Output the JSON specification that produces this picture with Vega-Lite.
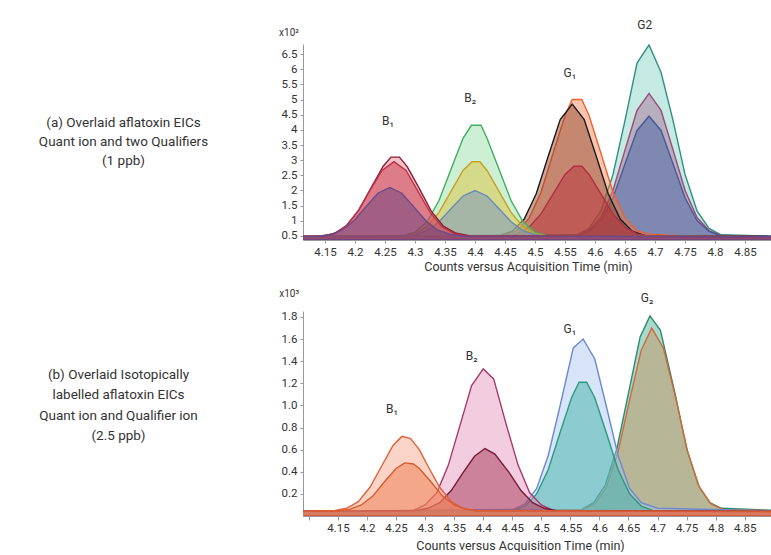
{
  "$schema": "https://vega.github.io/schema/vega-lite/v6.json",
  "background": "white",
  "padding": {"left": 38, "top": 19, "right": 0, "bottom": 0},
  "bounds": "flush",
  "spacing": 71,
  "config": {
    "view": {"stroke": null},
    "font": "Roboto",
    "axis": {
      "grid": false,
      "domainColor": "#999999",
      "tickColor": "#999999",
      "tickSize": 3,
      "labelColor": "#333333",
      "labelFontSize": 11.5,
      "labelOverlap": false,
      "labelFlush": false,
      "titleColor": "#333333",
      "titleFontSize": 12.5,
      "titleFontWeight": "normal"
    }
  },
  "resolve": {"scale": {"x": "independent", "y": "independent", "fill": "independent", "stroke": "independent"}},
  "datasets": {
    "top": [
      {"s":"G2t","x":4.05,"y":0.47},{"s":"G2t","x":4.57,"y":0.54},{"s":"G2t","x":4.59,"y":0.75},{"s":"G2t","x":4.61,"y":1.33},{"s":"G2t","x":4.63,"y":2.53},{"s":"G2t","x":4.65,"y":4.31},{"s":"G2t","x":4.67,"y":6.2},{"s":"G2t","x":4.69,"y":6.8},{"s":"G2t","x":4.71,"y":5.9},{"s":"G2t","x":4.73,"y":4.31},{"s":"G2t","x":4.75,"y":2.53},{"s":"G2t","x":4.77,"y":1.33},{"s":"G2t","x":4.79,"y":0.75},{"s":"G2t","x":4.81,"y":0.54},{"s":"G2t","x":4.95,"y":0.47},
      {"s":"G2m","x":4.05,"y":0.47},{"s":"G2m","x":4.57,"y":0.52},{"s":"G2m","x":4.59,"y":0.68},{"s":"G2m","x":4.61,"y":1.11},{"s":"G2m","x":4.63,"y":2.01},{"s":"G2m","x":4.65,"y":3.34},{"s":"G2m","x":4.67,"y":4.64},{"s":"G2m","x":4.69,"y":5.2},{"s":"G2m","x":4.71,"y":4.64},{"s":"G2m","x":4.73,"y":3.34},{"s":"G2m","x":4.75,"y":2.01},{"s":"G2m","x":4.77,"y":1.11},{"s":"G2m","x":4.79,"y":0.68},{"s":"G2m","x":4.81,"y":0.52},{"s":"G2m","x":4.95,"y":0.47},
      {"s":"G2n","x":4.05,"y":0.47},{"s":"G2n","x":4.57,"y":0.51},{"s":"G2n","x":4.59,"y":0.65},{"s":"G2n","x":4.61,"y":1.01},{"s":"G2n","x":4.63,"y":1.76},{"s":"G2n","x":4.65,"y":2.88},{"s":"G2n","x":4.67,"y":3.98},{"s":"G2n","x":4.69,"y":4.45},{"s":"G2n","x":4.71,"y":3.98},{"s":"G2n","x":4.73,"y":2.88},{"s":"G2n","x":4.75,"y":1.76},{"s":"G2n","x":4.77,"y":1.01},{"s":"G2n","x":4.79,"y":0.65},{"s":"G2n","x":4.81,"y":0.51},{"s":"G2n","x":4.95,"y":0.47},
      {"s":"G1o","x":4.05,"y":0.47},{"s":"G1o","x":4.45,"y":0.52},{"s":"G1o","x":4.47,"y":0.67},{"s":"G1o","x":4.49,"y":1.08},{"s":"G1o","x":4.51,"y":1.94},{"s":"G1o","x":4.53,"y":3.22},{"s":"G1o","x":4.55,"y":4.47},{"s":"G1o","x":4.562,"y":5.0},{"s":"G1o","x":4.578,"y":5.0},{"s":"G1o","x":4.59,"y":4.47},{"s":"G1o","x":4.61,"y":3.22},{"s":"G1o","x":4.63,"y":1.94},{"s":"G1o","x":4.65,"y":1.08},{"s":"G1o","x":4.67,"y":0.67},{"s":"G1o","x":4.69,"y":0.56},{"s":"G1o","x":4.75,"y":0.5},{"s":"G1o","x":4.95,"y":0.47},
      {"s":"G1k","x":4.05,"y":0.47},{"s":"G1k","x":4.442,"y":0.52},{"s":"G1k","x":4.462,"y":0.66},{"s":"G1k","x":4.482,"y":1.06},{"s":"G1k","x":4.502,"y":1.89},{"s":"G1k","x":4.522,"y":3.13},{"s":"G1k","x":4.542,"y":4.34},{"s":"G1k","x":4.562,"y":4.85},{"s":"G1k","x":4.582,"y":4.34},{"s":"G1k","x":4.602,"y":3.13},{"s":"G1k","x":4.622,"y":1.89},{"s":"G1k","x":4.642,"y":1.06},{"s":"G1k","x":4.662,"y":0.66},{"s":"G1k","x":4.682,"y":0.52},{"s":"G1k","x":4.95,"y":0.47},
      {"s":"G1r","x":4.05,"y":0.47},{"s":"G1r","x":4.45,"y":0.5},{"s":"G1r","x":4.47,"y":0.57},{"s":"G1r","x":4.49,"y":0.79},{"s":"G1r","x":4.51,"y":1.23},{"s":"G1r","x":4.53,"y":1.88},{"s":"G1r","x":4.55,"y":2.53},{"s":"G1r","x":4.565,"y":2.8},{"s":"G1r","x":4.578,"y":2.8},{"s":"G1r","x":4.59,"y":2.53},{"s":"G1r","x":4.61,"y":1.88},{"s":"G1r","x":4.63,"y":1.23},{"s":"G1r","x":4.65,"y":0.79},{"s":"G1r","x":4.67,"y":0.57},{"s":"G1r","x":4.69,"y":0.5},{"s":"G1r","x":4.95,"y":0.47},
      {"s":"B2g","x":4.05,"y":0.47},{"s":"B2g","x":4.28,"y":0.51},{"s":"B2g","x":4.3,"y":0.63},{"s":"B2g","x":4.32,"y":0.97},{"s":"B2g","x":4.34,"y":1.67},{"s":"B2g","x":4.36,"y":2.7},{"s":"B2g","x":4.38,"y":3.72},{"s":"B2g","x":4.394,"y":4.15},{"s":"B2g","x":4.41,"y":4.15},{"s":"B2g","x":4.42,"y":3.72},{"s":"B2g","x":4.44,"y":2.7},{"s":"B2g","x":4.46,"y":1.67},{"s":"B2g","x":4.48,"y":0.97},{"s":"B2g","x":4.5,"y":0.63},{"s":"B2g","x":4.52,"y":0.51},{"s":"B2g","x":4.95,"y":0.47},
      {"s":"B2y","x":4.05,"y":0.47},{"s":"B2y","x":4.28,"y":0.5},{"s":"B2y","x":4.3,"y":0.58},{"s":"B2y","x":4.32,"y":0.81},{"s":"B2y","x":4.34,"y":1.28},{"s":"B2y","x":4.36,"y":1.97},{"s":"B2y","x":4.38,"y":2.66},{"s":"B2y","x":4.395,"y":2.95},{"s":"B2y","x":4.408,"y":2.95},{"s":"B2y","x":4.42,"y":2.66},{"s":"B2y","x":4.44,"y":1.97},{"s":"B2y","x":4.46,"y":1.28},{"s":"B2y","x":4.48,"y":0.81},{"s":"B2y","x":4.5,"y":0.58},{"s":"B2y","x":4.52,"y":0.5},{"s":"B2y","x":4.95,"y":0.47},
      {"s":"B2b","x":4.05,"y":0.47},{"s":"B2b","x":4.28,"y":0.49},{"s":"B2b","x":4.3,"y":0.54},{"s":"B2b","x":4.32,"y":0.68},{"s":"B2b","x":4.34,"y":0.97},{"s":"B2b","x":4.36,"y":1.4},{"s":"B2b","x":4.38,"y":1.82},{"s":"B2b","x":4.4,"y":2.0},{"s":"B2b","x":4.42,"y":1.82},{"s":"B2b","x":4.44,"y":1.4},{"s":"B2b","x":4.46,"y":0.97},{"s":"B2b","x":4.48,"y":0.68},{"s":"B2b","x":4.5,"y":0.54},{"s":"B2b","x":4.52,"y":0.49},{"s":"B2b","x":4.95,"y":0.47},
      {"s":"B1a","x":4.05,"y":0.47},{"s":"B1a","x":4.147,"y":0.5},{"s":"B1a","x":4.167,"y":0.59},{"s":"B1a","x":4.187,"y":0.86},{"s":"B1a","x":4.207,"y":1.38},{"s":"B1a","x":4.227,"y":2.1},{"s":"B1a","x":4.247,"y":2.8},{"s":"B1a","x":4.26,"y":3.1},{"s":"B1a","x":4.274,"y":3.1},{"s":"B1a","x":4.287,"y":2.79},{"s":"B1a","x":4.307,"y":2.07},{"s":"B1a","x":4.327,"y":1.32},{"s":"B1a","x":4.347,"y":0.83},{"s":"B1a","x":4.367,"y":0.6},{"s":"B1a","x":4.39,"y":0.51},{"s":"B1a","x":4.95,"y":0.47},
      {"s":"B1b","x":4.05,"y":0.47},{"s":"B1b","x":4.145,"y":0.5},{"s":"B1b","x":4.165,"y":0.58},{"s":"B1b","x":4.185,"y":0.83},{"s":"B1b","x":4.205,"y":1.32},{"s":"B1b","x":4.225,"y":2.0},{"s":"B1b","x":4.245,"y":2.66},{"s":"B1b","x":4.265,"y":2.95},{"s":"B1b","x":4.285,"y":2.66},{"s":"B1b","x":4.305,"y":1.97},{"s":"B1b","x":4.325,"y":1.28},{"s":"B1b","x":4.345,"y":0.81},{"s":"B1b","x":4.365,"y":0.58},{"s":"B1b","x":4.385,"y":0.5},{"s":"B1b","x":4.95,"y":0.47},
      {"s":"B1c","x":4.05,"y":0.47},{"s":"B1c","x":4.138,"y":0.49},{"s":"B1c","x":4.158,"y":0.54},{"s":"B1c","x":4.178,"y":0.69},{"s":"B1c","x":4.198,"y":1.0},{"s":"B1c","x":4.218,"y":1.46},{"s":"B1c","x":4.238,"y":1.91},{"s":"B1c","x":4.258,"y":2.1},{"s":"B1c","x":4.278,"y":1.91},{"s":"B1c","x":4.298,"y":1.46},{"s":"B1c","x":4.318,"y":1.0},{"s":"B1c","x":4.338,"y":0.69},{"s":"B1c","x":4.358,"y":0.56},{"s":"B1c","x":4.378,"y":0.5},{"s":"B1c","x":4.95,"y":0.47}
    ],
    "bottom": [
      {"s":"G2g","x":4.05,"y":0.04},{"s":"G2g","x":4.57,"y":0.06},{"s":"G2g","x":4.59,"y":0.12},{"s":"G2g","x":4.61,"y":0.28},{"s":"G2g","x":4.63,"y":0.61},{"s":"G2g","x":4.65,"y":1.11},{"s":"G2g","x":4.67,"y":1.62},{"s":"G2g","x":4.687,"y":1.81},{"s":"G2g","x":4.705,"y":1.68},{"s":"G2g","x":4.73,"y":1.11},{"s":"G2g","x":4.75,"y":0.61},{"s":"G2g","x":4.77,"y":0.28},{"s":"G2g","x":4.79,"y":0.12},{"s":"G2g","x":4.81,"y":0.07},{"s":"G2g","x":4.95,"y":0.04},
      {"s":"G2o","x":4.05,"y":0.04},{"s":"G2o","x":4.572,"y":0.06},{"s":"G2o","x":4.592,"y":0.11},{"s":"G2o","x":4.612,"y":0.26},{"s":"G2o","x":4.632,"y":0.58},{"s":"G2o","x":4.652,"y":1.05},{"s":"G2o","x":4.672,"y":1.5},{"s":"G2o","x":4.69,"y":1.7},{"s":"G2o","x":4.71,"y":1.52},{"s":"G2o","x":4.732,"y":1.05},{"s":"G2o","x":4.752,"y":0.58},{"s":"G2o","x":4.772,"y":0.26},{"s":"G2o","x":4.792,"y":0.11},{"s":"G2o","x":4.812,"y":0.06},{"s":"G2o","x":4.95,"y":0.04},
      {"s":"G1b","x":4.05,"y":0.04},{"s":"G1b","x":4.452,"y":0.06},{"s":"G1b","x":4.472,"y":0.11},{"s":"G1b","x":4.492,"y":0.25},{"s":"G1b","x":4.512,"y":0.55},{"s":"G1b","x":4.532,"y":0.99},{"s":"G1b","x":4.555,"y":1.52},{"s":"G1b","x":4.572,"y":1.6},{"s":"G1b","x":4.592,"y":1.42},{"s":"G1b","x":4.612,"y":0.99},{"s":"G1b","x":4.632,"y":0.55},{"s":"G1b","x":4.652,"y":0.25},{"s":"G1b","x":4.672,"y":0.12},{"s":"G1b","x":4.7,"y":0.07},{"s":"G1b","x":4.95,"y":0.04},
      {"s":"G1t","x":4.05,"y":0.04},{"s":"G1t","x":4.452,"y":0.05},{"s":"G1t","x":4.472,"y":0.09},{"s":"G1t","x":4.492,"y":0.2},{"s":"G1t","x":4.512,"y":0.42},{"s":"G1t","x":4.532,"y":0.75},{"s":"G1t","x":4.552,"y":1.07},{"s":"G1t","x":4.565,"y":1.21},{"s":"G1t","x":4.578,"y":1.21},{"s":"G1t","x":4.592,"y":1.07},{"s":"G1t","x":4.612,"y":0.75},{"s":"G1t","x":4.632,"y":0.42},{"s":"G1t","x":4.652,"y":0.2},{"s":"G1t","x":4.672,"y":0.09},{"s":"G1t","x":4.692,"y":0.05},{"s":"G1t","x":4.95,"y":0.04},
      {"s":"B2p","x":4.05,"y":0.04},{"s":"B2p","x":4.28,"y":0.05},{"s":"B2p","x":4.3,"y":0.1},{"s":"B2p","x":4.32,"y":0.21},{"s":"B2p","x":4.34,"y":0.46},{"s":"B2p","x":4.36,"y":0.82},{"s":"B2p","x":4.38,"y":1.18},{"s":"B2p","x":4.4,"y":1.33},{"s":"B2p","x":4.418,"y":1.24},{"s":"B2p","x":4.44,"y":0.82},{"s":"B2p","x":4.46,"y":0.46},{"s":"B2p","x":4.48,"y":0.21},{"s":"B2p","x":4.5,"y":0.1},{"s":"B2p","x":4.52,"y":0.05},{"s":"B2p","x":4.95,"y":0.04},
      {"s":"B2d","x":4.05,"y":0.04},{"s":"B2d","x":4.285,"y":0.05},{"s":"B2d","x":4.305,"y":0.07},{"s":"B2d","x":4.325,"y":0.12},{"s":"B2d","x":4.345,"y":0.23},{"s":"B2d","x":4.365,"y":0.39},{"s":"B2d","x":4.385,"y":0.54},{"s":"B2d","x":4.403,"y":0.61},{"s":"B2d","x":4.42,"y":0.56},{"s":"B2d","x":4.445,"y":0.39},{"s":"B2d","x":4.465,"y":0.23},{"s":"B2d","x":4.485,"y":0.12},{"s":"B2d","x":4.505,"y":0.07},{"s":"B2d","x":4.525,"y":0.05},{"s":"B2d","x":4.95,"y":0.04},
      {"s":"B1o","x":4.05,"y":0.04},{"s":"B1o","x":4.145,"y":0.05},{"s":"B1o","x":4.165,"y":0.07},{"s":"B1o","x":4.185,"y":0.13},{"s":"B1o","x":4.205,"y":0.26},{"s":"B1o","x":4.225,"y":0.45},{"s":"B1o","x":4.245,"y":0.64},{"s":"B1o","x":4.26,"y":0.72},{"s":"B1o","x":4.275,"y":0.7},{"s":"B1o","x":4.29,"y":0.6},{"s":"B1o","x":4.305,"y":0.45},{"s":"B1o","x":4.325,"y":0.26},{"s":"B1o","x":4.345,"y":0.13},{"s":"B1o","x":4.365,"y":0.07},{"s":"B1o","x":4.385,"y":0.05},{"s":"B1o","x":4.95,"y":0.04},
      {"s":"B1i","x":4.05,"y":0.04},{"s":"B1i","x":4.15,"y":0.045},{"s":"B1i","x":4.17,"y":0.06},{"s":"B1i","x":4.19,"y":0.1},{"s":"B1i","x":4.21,"y":0.18},{"s":"B1i","x":4.23,"y":0.31},{"s":"B1i","x":4.25,"y":0.43},{"s":"B1i","x":4.265,"y":0.48},{"s":"B1i","x":4.28,"y":0.47},{"s":"B1i","x":4.29,"y":0.43},{"s":"B1i","x":4.31,"y":0.31},{"s":"B1i","x":4.33,"y":0.18},{"s":"B1i","x":4.35,"y":0.1},{"s":"B1i","x":4.37,"y":0.06},{"s":"B1i","x":4.39,"y":0.045},{"s":"B1i","x":4.95,"y":0.04}
    ],
    "toplab": [
      {"t":"B₁","x":4.255,"y":4.3,"k":"peak"},
      {"t":"B₂","x":4.392,"y":5.05,"k":"peak"},
      {"t":"G₁","x":4.558,"y":5.88,"k":"peak"},
      {"t":"G2","x":4.683,"y":7.45,"k":"peak"},
      {"t":"x10²","x":4.09,"y":7.19,"k":"unit"}
    ],
    "botlab": [
      {"t":"B₁","x":4.243,"y":0.97,"k":"peak"},
      {"t":"B₂","x":4.38,"y":1.45,"k":"peak"},
      {"t":"G₁","x":4.549,"y":1.69,"k":"peak"},
      {"t":"G₂","x":4.682,"y":1.97,"k":"peak"},
      {"t":"x10³","x":4.066,"y":2.01,"k":"unit"}
    ]
  },
  "vconcat": [
    {
      "width": 468,
      "height": 196,
      "encoding": {
        "x": {"field": "x", "type": "quantitative",
          "scale": {"domain": [4.1133, 4.8933], "nice": false, "zero": false},
          "axis": {"values": [4.15,4.2,4.25,4.3,4.35,4.4,4.45,4.5,4.55,4.6,4.65,4.7,4.75,4.8,4.85], "format": "~g", "labelPadding": 3,
            "title": "Counts versus Acquisition Time (min)", "titleX": 225, "titleAlign": "center", "titlePadding": 3}},
        "y": {"field": "y", "type": "quantitative", "stack": null,
          "scale": {"domain": [0.368, 6.83], "nice": false, "zero": false},
          "axis": {"values": [0.5,1,1.5,2,2.5,3,3.5,4,4.5,5,5.5,6,6.5], "format": "~g", "labelPadding": 3,
            "title": ["(a) Overlaid aflatoxin EICs", "Quant ion and two Qualifiers", "(1 ppb)"],
            "titleAngle": 0, "titleAlign": "center", "titleBaseline": "top", "titleX": -180, "titleY": 71,
            "titleFontSize": 13.5, "titleLineHeight": 19}}
      },
      "layer": [
        {
          "data": {"name": "top"},
          "mark": {"type": "area", "clip": true, "fillOpacity": 0.45, "strokeWidth": 1.4},
          "encoding": {
            "fill": {"field": "s", "type": "nominal", "legend": null,
              "scale": {"domain": ["G2t","G2m","G2n","G1o","G1k","G1r","B2g","B2y","B2b","B1a","B1b","B1c"],
                "range": ["#7fd0c0","#a86890","#3a58a0","#f08050","#8a3a24","#b82838","#90dca0","#e0c030","#6a8ac8","#e07a86","#c8283f","#5a3a7a"]}},
            "stroke": {"field": "s", "type": "nominal", "legend": null,
              "scale": {"domain": ["G2t","G2m","G2n","G1o","G1k","G1r","B2g","B2y","B2b","B1a","B1b","B1c"],
                "range": ["#2f8f80","#9a4a78","#4a5a98","#f06030","#1a1a1a","#b03040","#3fae60","#c8a020","#6a8ab8","#8c1a30","#c0304a","#6a4a8a"]}}
          }
        },
        {
          "data": {"name": "toplab"},
          "mark": {"type": "text", "color": "#333333"},
          "encoding": {
            "text": {"field": "t"},
            "size": {"field": "k", "type": "nominal", "legend": null, "scale": {"domain": ["peak", "unit"], "range": [12, 10]}}
          }
        }
      ]
    },
    {
      "width": 468,
      "height": 205,
      "encoding": {
        "x": {"field": "x", "type": "quantitative",
          "scale": {"domain": [4.0898, 4.8953], "nice": false, "zero": false},
          "axis": {"values": [4.1,4.15,4.2,4.25,4.3,4.35,4.4,4.45,4.5,4.55,4.6,4.65,4.7,4.75,4.8,4.85], "format": "~g",
            "labelExpr": "datum.value < 4.12 ? '' : datum.label", "labelPadding": 2, "tickSize": 4,
            "title": "Counts versus Acquisition Time (min)", "titleX": 217, "titleAlign": "center", "titlePadding": 6}},
        "y": {"field": "y", "type": "quantitative", "stack": null,
          "scale": {"domain": [0, 1.854], "nice": false, "zero": false},
          "axis": {"values": [0.2,0.4,0.6,0.8,1.0,1.2,1.4,1.6,1.8], "format": ".1f", "labelPadding": 3,
            "title": ["(b) Overlaid Isotopically", "labelled aflatoxin EICs", "Quant ion and Qualifier ion", "(2.5 ppb)"],
            "titleAngle": 0, "titleAlign": "center", "titleBaseline": "top", "titleX": -185, "titleY": 56,
            "titleFontSize": 13.5, "titleLineHeight": 20.5}}
      },
      "layer": [
        {
          "data": {"name": "bottom"},
          "mark": {"type": "area", "clip": true, "fillOpacity": 0.45, "strokeWidth": 1.4},
          "encoding": {
            "fill": {"field": "s", "type": "nominal", "legend": null,
              "scale": {"domain": ["G2g","G2o","G1b","G1t","B2p","B2d","B1o","B1i"],
                "range": ["#40a890","#c89058","#a8c4f0","#30b0a0","#e090b8","#a02848","#f5a080","#f07040"]}},
            "stroke": {"field": "s", "type": "nominal", "legend": null,
              "scale": {"domain": ["G2g","G2o","G1b","G1t","B2p","B2d","B1o","B1i"],
                "range": ["#2f8a6f","#d06a38","#6a8ad0","#2a9a80","#a83a6a","#7a1a38","#e0603a","#d85a30"]}}
          }
        },
        {
          "data": {"name": "botlab"},
          "mark": {"type": "text", "color": "#333333"},
          "encoding": {
            "text": {"field": "t"},
            "size": {"field": "k", "type": "nominal", "legend": null, "scale": {"domain": ["peak", "unit"], "range": [12, 10]}}
          }
        }
      ]
    }
  ]
}
